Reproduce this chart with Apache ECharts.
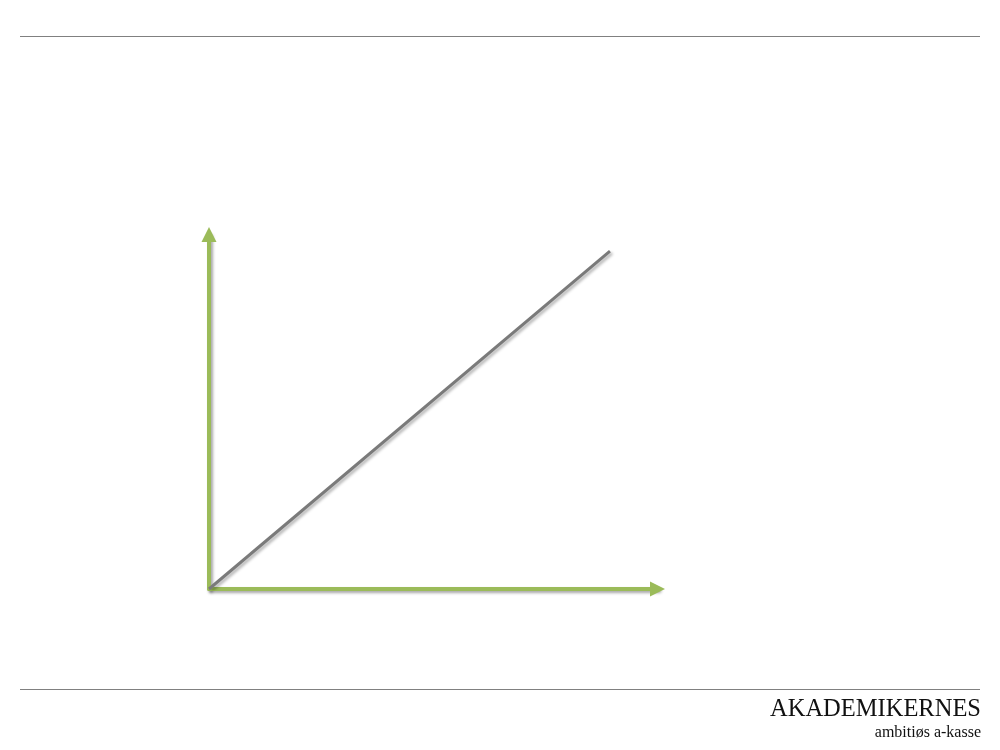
<!DOCTYPE html>
<html>
<head>
<meta charset="utf-8">
<script src="https://cdn.jsdelivr.net/npm/echarts@6/dist/echarts.min.js"></script>
<style>
html,body{margin:0;padding:0;background:#fff;}
#chart{width:1000px;height:750px;}
</style>
</head>
<body>
<div id="chart"></div>
<script>
// Data: a single straight line rising from the origin
var xValues = [0, 89.4];
var yValues = [0, 95.3];
var axisRange = [0, 100];
var brandName = 'AKADEMIKERNES';
var brandTagline = 'ambitiøs a-kasse';

var lineData = xValues.map(function (x, i) { return [x, yValues[i]]; });

var green = '#9BBB59';
var axisLineStyle = {
  color: green,
  width: 4,
  shadowColor: 'rgba(0,0,0,0.35)',
  shadowBlur: 3,
  shadowOffsetX: 2,
  shadowOffsetY: 2
};

var chart = echarts.init(document.getElementById('chart'), null, {renderer: 'canvas'});
chart.setOption({
  backgroundColor: '#ffffff',
  animation: false,
  grid: {left: 209, right: 342.5, top: 234.5, bottom: 161, containLabel: false},
  xAxis: {
    type: 'value', min: axisRange[0], max: axisRange[1],
    axisLine: {show: true, onZero: false, symbol: ['none', 'triangle'], symbolSize: [15, 15], lineStyle: axisLineStyle},
    axisTick: {show: false}, axisLabel: {show: false}, splitLine: {show: false}
  },
  yAxis: {
    type: 'value', min: axisRange[0], max: axisRange[1],
    axisLine: {show: true, onZero: false, symbol: ['none', 'triangle'], symbolSize: [15, 15], lineStyle: axisLineStyle},
    axisTick: {show: false}, axisLabel: {show: false}, splitLine: {show: false}
  },
  series: [{
    type: 'line',
    data: lineData,
    showSymbol: false,
    symbol: 'none',
    z: 3,
    lineStyle: {
      color: '#7a7a7a', width: 3,
      shadowColor: 'rgba(0,0,0,0.3)', shadowBlur: 3, shadowOffsetX: 2, shadowOffsetY: 2
    }
  }],
  graphic: [
    {type: 'line', shape: {x1: 20, y1: 36.5, x2: 980, y2: 36.5}, style: {stroke: '#808080', lineWidth: 1}},
    {type: 'line', shape: {x1: 20, y1: 689.5, x2: 980, y2: 689.5}, style: {stroke: '#808080', lineWidth: 1}},
    {type: 'text', x: 981, y: 722, style: {text: brandName, font: '24.5px "Liberation Serif", "DejaVu Serif", serif', fill: '#111', textAlign: 'right', textVerticalAlign: 'bottom'}},
    {type: 'text', x: 981, y: 741, style: {text: brandTagline, font: '16px "Liberation Serif", "DejaVu Serif", serif', fill: '#111', textAlign: 'right', textVerticalAlign: 'bottom'}}
  ]
});
</script>
</body>
</html>
